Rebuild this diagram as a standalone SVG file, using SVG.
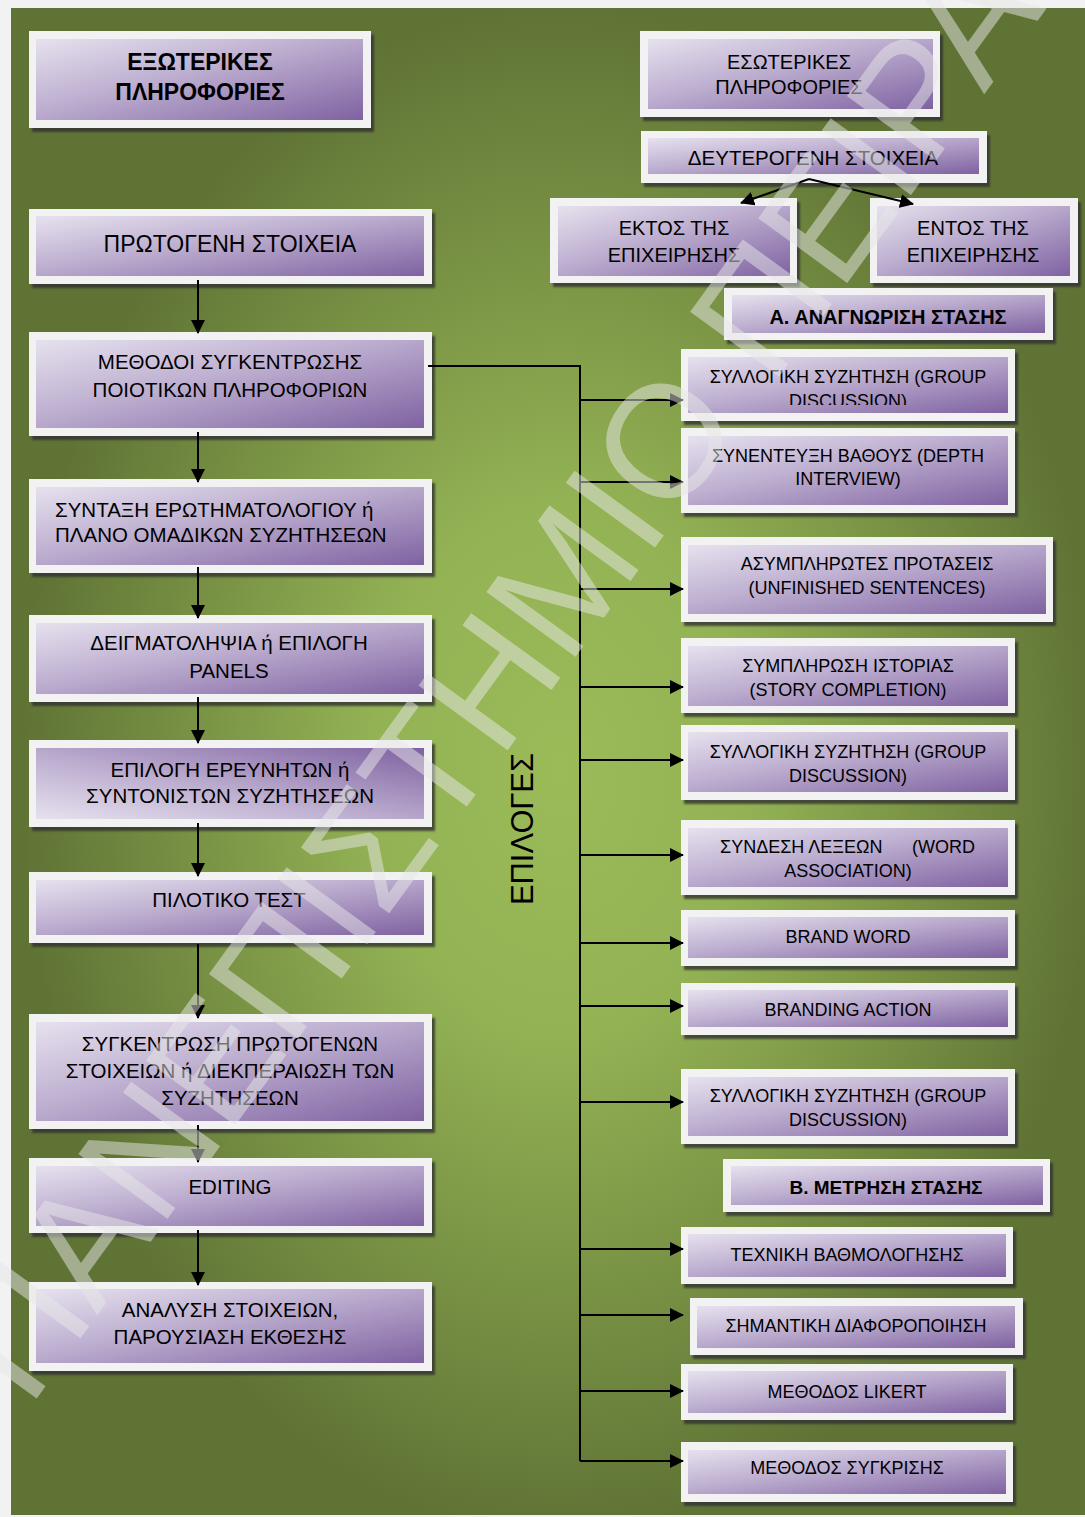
<svg xmlns="http://www.w3.org/2000/svg" width="1085" height="1517" viewBox="0 0 1085 1517">
<defs>
<radialGradient id="bg" gradientUnits="userSpaceOnUse" cx="560" cy="770" r="540" gradientTransform="translate(560 770) scale(1 1.42) translate(-560 -770)">
<stop offset="0" stop-color="#9bbb59"/>
<stop offset="0.35" stop-color="#93b254"/>
<stop offset="1" stop-color="#5f7335"/>
</radialGradient>
<linearGradient id="pg" x1="0" y1="0" x2="1" y2="1">
<stop offset="0" stop-color="#e6e1ee"/>
<stop offset="0.45" stop-color="#bcadcf"/>
<stop offset="1" stop-color="#7f62a1"/>
</linearGradient>
<linearGradient id="pg2" x1="0" y1="1" x2="1" y2="0">
<stop offset="0" stop-color="#e6e1ee"/>
<stop offset="0.45" stop-color="#bcadcf"/>
<stop offset="1" stop-color="#7f62a1"/>
</linearGradient>
<filter id="blur" x="-5%" y="-10%" width="110%" height="120%">
<feGaussianBlur stdDeviation="1.2"/>
</filter>
<marker id="ah" markerUnits="userSpaceOnUse" markerWidth="14" markerHeight="14" refX="13" refY="7" orient="auto">
<path d="M0,0 L14,7 L0,14 z" fill="#000"/>
</marker>
<clipPath id="clip1"><rect x="688" y="357" width="320" height="48"/></clipPath>
</defs>
<style>
.sh{fill:#333;opacity:.8;filter:url(#blur)}
.fr{fill:#f2f2f2}
.in{fill:url(#pg)}
.in2{fill:url(#pg2)}
text{font-family:"Liberation Sans",Arial,sans-serif;fill:#000;text-anchor:middle}
.l{font-size:20.5px}
.r{font-size:18px}
.b{font-weight:bold}
.conn path{stroke:#000;stroke-width:2;fill:none}
.wm{font-family:"Liberation Sans",Arial,sans-serif;font-size:160px;fill:#e8e8e8;opacity:.5;text-anchor:start}
</style>
<rect x="0" y="0" width="1085" height="1517" fill="#f2f2f2"/>
<rect x="11" y="8" width="1074" height="1507" fill="url(#bg)"/>

<g id="n-ext">
<rect class="sh" x="32" y="35" width="342" height="97"/>
<rect class="fr" x="29" y="31" width="342" height="97"/>
<rect class="in" x="36" y="39" width="327" height="81"/>
<text class="b" style="font-size:23px" x="200" y="70">ΕΞΩΤΕΡΙΚΕΣ</text>
<text class="b" style="font-size:23px" x="200" y="100">ΠΛΗΡΟΦΟΡΙΕΣ</text>
</g>
<g id="n-prot">
<rect class="sh" x="32" y="213" width="403" height="75"/>
<rect class="fr" x="29" y="209" width="403" height="75"/>
<rect class="in" x="36" y="216" width="388" height="60"/>
<text style="font-size:23px" x="230" y="252">ΠΡΩΤΟΓΕΝΗ ΣΤΟΙΧΕΙΑ</text>
</g>
<g id="n-meth">
<rect class="sh" x="32" y="336" width="403" height="104"/>
<rect class="fr" x="29" y="332" width="403" height="104"/>
<rect class="in" x="36" y="340" width="388" height="88"/>
<text class="l" x="230" y="368.5">ΜΕΘΟΔΟΙ ΣΥΓΚΕΝΤΡΩΣΗΣ</text>
<text class="l" x="230" y="396.5">ΠΟΙΟΤΙΚΩΝ ΠΛΗΡΟΦΟΡΙΩΝ</text>
</g>
<g id="n-synt">
<rect class="sh" x="32" y="483" width="403" height="94"/>
<rect class="fr" x="29" y="479" width="403" height="94"/>
<rect class="in" x="36" y="487" width="388" height="78"/>
<text class="l" style="text-anchor:start" x="55" y="517">ΣΥΝΤΑΞΗ ΕΡΩΤΗΜΑΤΟΛΟΓΙΟΥ ή</text>
<text class="l" style="text-anchor:start" x="55" y="542">ΠΛΑΝΟ ΟΜΑΔΙΚΩΝ ΣΥΖΗΤΗΣΕΩΝ</text>
</g>
<g id="n-deigm">
<rect class="sh" x="32" y="619" width="403" height="87"/>
<rect class="fr" x="29" y="615" width="403" height="87"/>
<rect class="in" x="36" y="623" width="388" height="71"/>
<text class="l" x="229" y="650">ΔΕΙΓΜΑΤΟΛΗΨΙΑ ή ΕΠΙΛΟΓΗ</text>
<text class="l" x="229" y="678">PANELS</text>
</g>
<g id="n-epil">
<rect class="sh" x="32" y="744" width="403" height="87"/>
<rect class="fr" x="29" y="740" width="403" height="87"/>
<rect class="in2" x="36" y="748" width="388" height="71"/>
<text class="l" x="230" y="777">ΕΠΙΛΟΓΗ ΕΡΕΥΝΗΤΩΝ ή</text>
<text class="l" x="230" y="803">ΣΥΝΤΟΝΙΣΤΩΝ ΣΥΖΗΤΗΣΕΩΝ</text>
</g>
<g id="n-pilot">
<rect class="sh" x="32" y="876" width="403" height="71"/>
<rect class="fr" x="29" y="872" width="403" height="71"/>
<rect class="in" x="36" y="880" width="388" height="55"/>
<text class="l" x="229" y="907">ΠΙΛΟΤΙΚΟ ΤΕΣΤ</text>
</g>
<g id="n-syg">
<rect class="sh" x="32" y="1018" width="403" height="115"/>
<rect class="fr" x="29" y="1014" width="403" height="115"/>
<rect class="in" x="36" y="1022" width="388" height="99"/>
<text class="l" x="230" y="1050.5">ΣΥΓΚΕΝΤΡΩΣΗ ΠΡΩΤΟΓΕΝΩΝ</text>
<text class="l" x="230" y="1078">ΣΤΟΙΧΕΙΩΝ ή ΔΙΕΚΠΕΡΑΙΩΣΗ ΤΩΝ</text>
<text class="l" x="230" y="1105">ΣΥΖΗΤΗΣΕΩΝ</text>
</g>
<g id="n-edit">
<rect class="sh" x="32" y="1162" width="403" height="75"/>
<rect class="fr" x="29" y="1158" width="403" height="75"/>
<rect class="in" x="36" y="1166" width="388" height="60"/>
<text class="l" x="230" y="1194">EDITING</text>
</g>
<g id="n-anal">
<rect class="sh" x="32" y="1286" width="403" height="89"/>
<rect class="fr" x="29" y="1282" width="403" height="89"/>
<rect class="in" x="36" y="1289" width="388" height="74"/>
<text class="l" x="230" y="1317">ΑΝΑΛΥΣΗ ΣΤΟΙΧΕΙΩΝ,</text>
<text class="l" x="230" y="1344">ΠΑΡΟΥΣΙΑΣΗ ΕΚΘΕΣΗΣ</text>
</g>

<g id="n-esot">
<rect class="sh" x="643" y="35" width="300" height="86"/>
<rect class="fr" x="640" y="31" width="300" height="86"/>
<rect class="in" x="648" y="39" width="285" height="70"/>
<text style="font-size:20px" x="789" y="69">ΕΣΩΤΕΡΙΚΕΣ</text>
<text style="font-size:20px" x="789" y="94">ΠΛΗΡΟΦΟΡΙΕΣ</text>
</g>
<g id="n-deut">
<rect class="sh" x="644" y="135" width="346" height="52"/>
<rect class="fr" x="641" y="131" width="346" height="52"/>
<rect class="in" x="648" y="138" width="331" height="36"/>
<text class="l" x="813" y="165">ΔΕΥΤΕΡΟΓΕΝΗ ΣΤΟΙΧΕΙΑ</text>
</g>
<g id="n-ektos">
<rect class="sh" x="553" y="202" width="247" height="85"/>
<rect class="fr" x="550" y="198" width="247" height="85"/>
<rect class="in" x="558" y="206" width="232" height="70"/>
<text style="font-size:20px" x="674" y="235">ΕΚΤΟΣ ΤΗΣ</text>
<text style="font-size:20px" x="674" y="262">ΕΠΙΧΕΙΡΗΣΗΣ</text>
</g>
<g id="n-entos">
<rect class="sh" x="873" y="202" width="208" height="85"/>
<rect class="fr" x="870" y="198" width="208" height="85"/>
<rect class="in" x="877" y="206" width="193" height="70"/>
<text style="font-size:20px" x="973" y="235">ΕΝΤΟΣ ΤΗΣ</text>
<text style="font-size:20px" x="973" y="262">ΕΠΙΧΕΙΡΗΣΗΣ</text>
</g>
<g id="n-a">
<rect class="sh" x="727" y="292" width="329" height="52"/>
<rect class="fr" x="724" y="288" width="329" height="52"/>
<rect class="in" x="732" y="295" width="313" height="38"/>
<text class="b" style="font-size:20px" x="888" y="324">Α. ΑΝΑΓΝΩΡΙΣΗ ΣΤΑΣΗΣ</text>
</g>
<g id="n-syl1">
<rect class="sh" x="684" y="353" width="334" height="72"/>
<rect class="fr" x="681" y="349" width="334" height="72"/>
<rect class="in" x="688" y="357" width="320" height="56"/>
<g clip-path="url(#clip1)">
<text class="r" x="848" y="383">ΣΥΛΛΟΓΙΚΗ ΣΥΖΗΤΗΣΗ (GROUP</text>
<text class="r" x="848" y="407">DISCUSSION)</text>
</g>
</g>
<g id="n-synent">
<rect class="sh" x="684" y="432" width="334" height="85"/>
<rect class="fr" x="681" y="428" width="334" height="85"/>
<rect class="in" x="688" y="436" width="320" height="69"/>
<text class="r" x="848" y="462">ΣΥΝΕΝΤΕΥΞΗ ΒΑΘΟΥΣ (DEPTH</text>
<text class="r" x="848" y="485">INTERVIEW)</text>
</g>
<g id="n-asym">
<rect class="sh" x="684" y="541" width="372" height="85"/>
<rect class="fr" x="681" y="537" width="372" height="85"/>
<rect class="in" x="688" y="545" width="358" height="69"/>
<text class="r" x="867" y="570">ΑΣΥΜΠΛΗΡΩΤΕΣ ΠΡΟΤΑΣΕΙΣ</text>
<text class="r" x="867" y="594">(UNFINISHED SENTENCES)</text>
</g>
<g id="n-sympl">
<rect class="sh" x="684" y="642" width="334" height="75"/>
<rect class="fr" x="681" y="638" width="334" height="75"/>
<rect class="in" x="688" y="646" width="320" height="60"/>
<text class="r" x="848" y="672">ΣΥΜΠΛΗΡΩΣΗ ΙΣΤΟΡΙΑΣ</text>
<text class="r" x="848" y="696">(STORY COMPLETION)</text>
</g>
<g id="n-syl2">
<rect class="sh" x="684" y="729" width="334" height="75"/>
<rect class="fr" x="681" y="725" width="334" height="75"/>
<rect class="in" x="688" y="732" width="320" height="60"/>
<text class="r" x="848" y="758">ΣΥΛΛΟΓΙΚΗ ΣΥΖΗΤΗΣΗ (GROUP</text>
<text class="r" x="848" y="782">DISCUSSION)</text>
</g>
<g id="n-synd">
<rect class="sh" x="684" y="824" width="334" height="75"/>
<rect class="fr" x="681" y="820" width="334" height="75"/>
<rect class="in" x="688" y="828" width="320" height="59"/>
<text class="r" style="text-anchor:start" x="720" y="853">ΣΥΝΔΕΣΗ ΛΕΞΕΩΝ</text>
<text class="r" style="text-anchor:end" x="975" y="853">(WORD</text>
<text class="r" x="848" y="877">ASSOCIATION)</text>
</g>
<g id="n-bword">
<rect class="sh" x="684" y="914" width="334" height="56"/>
<rect class="fr" x="681" y="910" width="334" height="56"/>
<rect class="in" x="688" y="917" width="320" height="41"/>
<text class="r" x="848" y="943">BRAND WORD</text>
</g>
<g id="n-baction">
<rect class="sh" x="684" y="987" width="334" height="52"/>
<rect class="fr" x="681" y="983" width="334" height="52"/>
<rect class="in" x="688" y="990" width="320" height="37"/>
<text class="r" x="848" y="1016">BRANDING ACTION</text>
</g>
<g id="n-syl3">
<rect class="sh" x="684" y="1073" width="334" height="75"/>
<rect class="fr" x="681" y="1069" width="334" height="75"/>
<rect class="in" x="688" y="1077" width="320" height="59"/>
<text class="r" x="848" y="1102">ΣΥΛΛΟΓΙΚΗ ΣΥΖΗΤΗΣΗ (GROUP</text>
<text class="r" x="848" y="1126">DISCUSSION)</text>
</g>
<g id="n-b">
<rect class="sh" x="726" y="1163" width="327" height="53"/>
<rect class="fr" x="723" y="1159" width="327" height="53"/>
<rect class="in" x="731" y="1166" width="312" height="39"/>
<text class="b" style="font-size:19px" x="886" y="1194">Β. ΜΕΤΡΗΣΗ ΣΤΑΣΗΣ</text>
</g>
<g id="n-tech">
<rect class="sh" x="684" y="1231" width="332" height="57"/>
<rect class="fr" x="681" y="1227" width="332" height="57"/>
<rect class="in" x="688" y="1234" width="318" height="43"/>
<text class="r" x="847" y="1261">ΤΕΧΝΙΚΗ ΒΑΘΜΟΛΟΓΗΣΗΣ</text>
</g>
<g id="n-siman">
<rect class="sh" x="693" y="1302" width="333" height="57"/>
<rect class="fr" x="690" y="1298" width="333" height="57"/>
<rect class="in" x="697" y="1306" width="318" height="42"/>
<text class="r" x="856" y="1332">ΣΗΜΑΝΤΙΚΗ ΔΙΑΦΟΡΟΠΟΙΗΣΗ</text>
</g>
<g id="n-likert">
<rect class="sh" x="684" y="1368" width="332" height="56"/>
<rect class="fr" x="681" y="1364" width="332" height="56"/>
<rect class="in" x="688" y="1371" width="318" height="42"/>
<text class="r" x="847" y="1398">ΜΕΘΟΔΟΣ LIKERT</text>
</g>
<g id="n-sygkr">
<rect class="sh" x="684" y="1446" width="332" height="60"/>
<rect class="fr" x="681" y="1442" width="332" height="60"/>
<rect class="in" x="688" y="1450" width="318" height="44"/>
<text class="r" x="847" y="1474">ΜΕΘΟΔΟΣ ΣΥΓΚΡΙΣΗΣ</text>
</g>

<g id="n-epiloges">
<text transform="translate(533 829) rotate(-90)" style="font-size:32px" textLength="152" lengthAdjust="spacingAndGlyphs" x="0" y="0">ΕΠΙΛΟΓΕΣ</text>
</g>

<g class="conn" id="connectors">
<path d="M198,280 V333" marker-end="url(#ah)"/>
<path d="M198,432 V482" marker-end="url(#ah)"/>
<path d="M198,567 V618" marker-end="url(#ah)"/>
<path d="M198,697 V743" marker-end="url(#ah)"/>
<path d="M198,823 V876" marker-end="url(#ah)"/>
<path d="M198,944 V1018" marker-end="url(#ah)"/>
<path d="M198,1125 V1162" marker-end="url(#ah)"/>
<path d="M198,1230 V1285" marker-end="url(#ah)"/>
<path d="M809,179 L741,203" marker-end="url(#ah)"/>
<path d="M809,179 L913,204" marker-end="url(#ah)"/>
<path d="M428,366 H580 V1461"/>
<path d="M580,400 H683" marker-end="url(#ah)"/>
<path d="M580,482 H683" marker-end="url(#ah)"/>
<path d="M580,589 H683" marker-end="url(#ah)"/>
<path d="M580,687 H683" marker-end="url(#ah)"/>
<path d="M580,760 H683" marker-end="url(#ah)"/>
<path d="M580,855 H683" marker-end="url(#ah)"/>
<path d="M580,943 H683" marker-end="url(#ah)"/>
<path d="M580,1006 H683" marker-end="url(#ah)"/>
<path d="M580,1102 H683" marker-end="url(#ah)"/>
<path d="M580,1249 H683" marker-end="url(#ah)"/>
<path d="M580,1315 H683" marker-end="url(#ah)"/>
<path d="M580,1391 H683" marker-end="url(#ah)"/>
<path d="M580,1461 H683" marker-end="url(#ah)"/>
</g>

<text class="wm" transform="translate(29 1409) rotate(-54)" x="0" y="0">ΠΑΝΕΠΙΣΤΗΜΙΟ ΠΕΙΡΑΙΑ</text>
</svg>
